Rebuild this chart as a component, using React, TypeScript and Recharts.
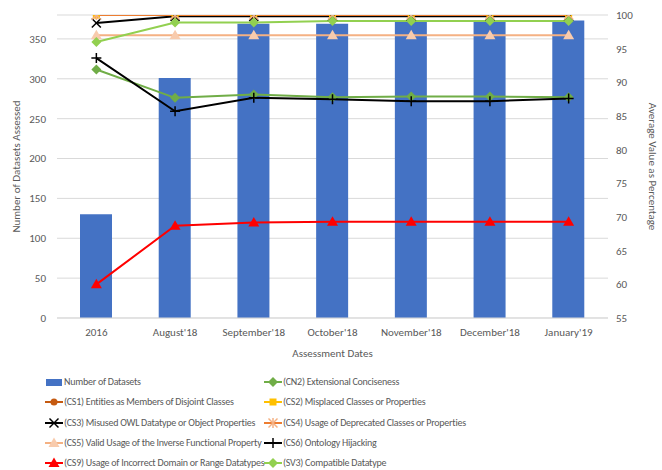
import React from "react";
import {
  ComposedChart,
  Bar,
  Line,
  XAxis,
  YAxis,
  CartesianGrid,
} from "recharts";

// Data
const dates = ["2016", "August'18", "September'18", "October'18", "November'18", "December'18", "January'19"];
const datasets = [130, 301, 369, 369, 373, 372, 373];
const cn2 = [91.9, 87.7, 88.2, 87.8, 87.9, 87.9, 87.8];
const cs1 = [100, 100, 100, 100, 100, 100, 100];
const cs2 = [100, 100, 100, 100, 100, 100, 100];
const cs3 = [98.8, 99.8, 99.8, 99.8, 99.8, 99.8, 99.8];
const cs4 = [100, 100, 100, 100, 100, 100, 100];
const cs5 = [97.0, 97.0, 97.0, 97.0, 97.0, 97.0, 97.0];
const cs6 = [93.6, 85.7, 87.7, 87.5, 87.2, 87.2, 87.6];
const cs9 = [60.0, 68.7, 69.2, 69.3, 69.3, 69.3, 69.3];
const sv3 = [96.0, 98.9, 98.9, 99.1, 99.1, 99.1, 99.1];

const leftTicks = [0, 50, 100, 150, 200, 250, 300, 350];
const rightTicks = [55, 60, 65, 70, 75, 80, 85, 90, 95, 100];

const FONT = "Carlito, Calibri, Lato, 'Open Sans', sans-serif";
const TEXT = "#595959";
const GRID = "#D9D9D9";
const BAR_COLOR = "#4472C4";

type Shape = "circle" | "square" | "diamond" | "triangle" | "x" | "plus" | "star";

interface SeriesDef {
  key: string;
  name: string;
  values: number[];
  color: string;
  markerColor: string;
  shape: Shape;
}

// drawn in this order (later ones on top)
const series: SeriesDef[] = [
  { key: "cn2", name: "(CN2) Extensional Conciseness", values: cn2, color: "#70AD47", markerColor: "#70AD47", shape: "diamond" },
  { key: "cs1", name: "(CS1) Entities as Members of Disjoint Classes", values: cs1, color: "#C55A11", markerColor: "#C55A11", shape: "circle" },
  { key: "cs2", name: "(CS2) Misplaced Classes or Properties", values: cs2, color: "#FFC000", markerColor: "#FFC000", shape: "square" },
  { key: "cs3", name: "(CS3) Misused OWL Datatype or Object Properties", values: cs3, color: "#000000", markerColor: "#000000", shape: "x" },
  { key: "cs4", name: "(CS4) Usage of Deprecated Classes or Properties", values: cs4, color: "#ED7D31", markerColor: "#F4B183", shape: "star" },
  { key: "cs5", name: "(CS5) Valid Usage of the Inverse Functional Property", values: cs5, color: "#F4B183", markerColor: "#F8CBAD", shape: "triangle" },
  { key: "cs6", name: "(CS6) Ontology Hijacking", values: cs6, color: "#000000", markerColor: "#000000", shape: "plus" },
  { key: "cs9", name: "(CS9) Usage of Incorrect Domain or Range Datatypes", values: cs9, color: "#FF0000", markerColor: "#FF0000", shape: "triangle" },
  { key: "sv3", name: "(SV3) Compatible Datatype", values: sv3, color: "#92D050", markerColor: "#92D050", shape: "diamond" },
];

const chartData = dates.map((d, i) => {
  const row: Record<string, string | number> = { date: d, datasets: datasets[i] };
  series.forEach((s) => {
    row[s.key] = s.values[i];
  });
  return row;
});

function Marker({ shape, cx, cy, color }: { shape: Shape; cx: number; cy: number; color: string }) {
  switch (shape) {
    case "circle":
      return <circle cx={cx} cy={cy} r={3.5} fill={color} />;
    case "square":
      return <rect x={cx - 3.5} y={cy - 3.5} width={7} height={7} fill={color} />;
    case "diamond":
      return <polygon points={`${cx},${cy - 5} ${cx + 5},${cy} ${cx},${cy + 5} ${cx - 5},${cy}`} fill={color} />;
    case "triangle":
      return <polygon points={`${cx},${cy - 5.5} ${cx + 5.5},${cy + 4} ${cx - 5.5},${cy + 4}`} fill={color} />;
    case "x":
      return (
        <g stroke={color} strokeWidth={1.5}>
          <line x1={cx - 4.5} y1={cy - 4.5} x2={cx + 4.5} y2={cy + 4.5} />
          <line x1={cx - 4.5} y1={cy + 4.5} x2={cx + 4.5} y2={cy - 4.5} />
        </g>
      );
    case "plus":
      return (
        <g stroke={color} strokeWidth={1.5}>
          <line x1={cx - 5} y1={cy} x2={cx + 5} y2={cy} />
          <line x1={cx} y1={cy - 5} x2={cx} y2={cy + 5} />
        </g>
      );
    case "star":
      return (
        <g stroke={color} strokeWidth={1.5}>
          <line x1={cx - 4.5} y1={cy - 4.5} x2={cx + 4.5} y2={cy + 4.5} />
          <line x1={cx - 4.5} y1={cy + 4.5} x2={cx + 4.5} y2={cy - 4.5} />
          <line x1={cx} y1={cy - 5} x2={cx} y2={cy + 5} />
        </g>
      );
  }
  return null;
}

function LegendItem({ s }: { s: SeriesDef }) {
  return (
    <span style={{ display: "flex", alignItems: "center", whiteSpace: "nowrap" }}>
      <svg width={18} height={12} style={{ marginRight: 1, flexShrink: 0 }}>
        <line x1={0} y1={6} x2={18} y2={6} stroke={s.color} strokeWidth={2} />
        <Marker shape={s.shape} cx={9} cy={6} color={s.markerColor} />
      </svg>
      {s.name}
    </span>
  );
}

const tickStyle = { fontSize: 11, fontFamily: FONT, fill: TEXT };

export default function App() {
  const byKey = (k: string) => series.find((s) => s.key === k)!;
  const legendRows: [React.ReactNode, React.ReactNode][] = [
    [
      <span style={{ display: "flex", alignItems: "center", whiteSpace: "nowrap" }}>
        <span style={{ display: "inline-block", flexShrink: 0, width: 16, height: 7, background: BAR_COLOR, marginRight: 2, marginLeft: 1 }} />
        Number of Datasets
      </span>,
      <LegendItem s={byKey("cn2")} />,
    ],
    [<LegendItem s={byKey("cs1")} />, <LegendItem s={byKey("cs2")} />],
    [<LegendItem s={byKey("cs3")} />, <LegendItem s={byKey("cs4")} />],
    [<LegendItem s={byKey("cs5")} />, <LegendItem s={byKey("cs6")} />],
    [<LegendItem s={byKey("cs9")} />, <LegendItem s={byKey("sv3")} />],
  ];

  return (
    <div
      style={{
        position: "absolute",
        left: 0,
        top: 0,
        width: 662,
        height: 470,
        background: "#FFFFFF",
        fontFamily: FONT,
        color: TEXT,
      }}
    >
      <ComposedChart
        width={662}
        height={362}
        data={chartData}
        margin={{ top: 15, right: 0, left: 0, bottom: 0 }}
        barCategoryGap="30%"
      >
        <CartesianGrid yAxisId="left" vertical={false} stroke={GRID} />
        <XAxis
          dataKey="date"
          height={44}
          tick={tickStyle}
          tickLine={false}
          tickSize={0}
          tickMargin={10}
          interval={0}
          axisLine={{ stroke: GRID }}
          label={{
            value: "Assessment Dates",
            position: "insideBottom",
            offset: 5,
            style: { fontSize: 11, fontFamily: FONT, fill: TEXT },
          }}
        />
        <YAxis
          yAxisId="left"
          width={57}
          domain={[0, 380]}
          ticks={leftTicks}
          allowDataOverflow
          tick={tickStyle}
          tickLine={false}
          axisLine={false}
          tickSize={0}
          tickMargin={11}
          label={{
            value: "Number of Datasets Assessed",
            angle: -90,
            position: "insideLeft",
            offset: 16,
            style: { fontSize: 11, fontFamily: FONT, fill: TEXT, textAnchor: "middle" },
          }}
        />
        <YAxis
          yAxisId="right"
          orientation="right"
          width={54}
          domain={[55, 100]}
          ticks={rightTicks}
          allowDataOverflow
          tick={tickStyle}
          tickLine={false}
          axisLine={false}
          tickSize={0}
          tickMargin={8}
          label={{
            value: "Average Value as Percentage",
            angle: 90,
            position: "insideRight",
            offset: 9,
            style: { fontSize: 11, fontFamily: FONT, fill: TEXT, textAnchor: "middle" },
          }}
        />
        <Bar yAxisId="left" dataKey="datasets" fill={BAR_COLOR} barSize={32} isAnimationActive={false} />
        {series.map((s) => (
          <Line
            key={s.key}
            yAxisId="right"
            type="linear"
            dataKey={s.key}
            stroke={s.color}
            strokeWidth={2}
            isAnimationActive={false}
            dot={(p: any) => (
              <Marker key={`${s.key}-${p.index}`} shape={s.shape} cx={p.cx} cy={p.cy} color={s.markerColor} />
            )}
            activeDot={false}
          />
        ))}
      </ComposedChart>

      <div style={{ position: "absolute", left: 45, top: 372, fontSize: 10, letterSpacing: "-0.25px", lineHeight: "20.3px" }}>
        {legendRows.map((row, i) => (
          <div key={i} style={{ display: "flex", height: 20.3 }}>
            <div style={{ width: 219, flexShrink: 0 }}>{row[0]}</div>
            <div>{row[1]}</div>
          </div>
        ))}
      </div>
    </div>
  );
}
